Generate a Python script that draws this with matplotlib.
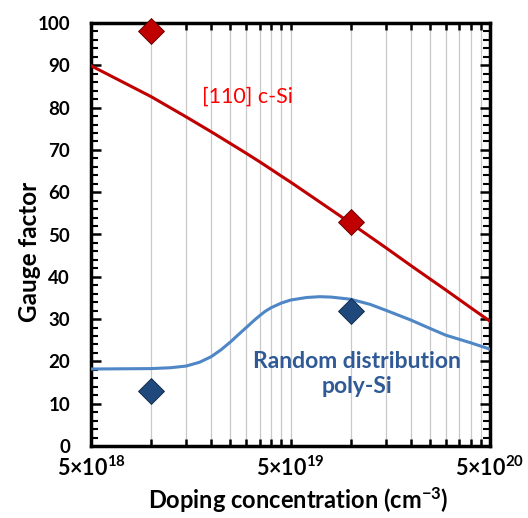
#!/usr/bin/env python3
"""Gauge factor vs doping concentration: [110] c-Si and random poly-Si."""

import matplotlib

matplotlib.use("Agg")
import matplotlib.pyplot as plt
from matplotlib.ticker import FixedLocator, NullFormatter

# model curve for [110] single-crystal Si
csi_x = [5e18, 1e19, 1.5e19, 2e19, 2.5e19, 3e19, 3.5e19, 4e19, 4.5e19, 5e19,
         7e19, 1e20, 1.5e20, 2e20, 2.5e20, 3e20, 4e20, 5e20]
csi_y = [89.9, 82.6, 77.8, 74.3, 71.5, 69.2, 67.2, 65.4, 63.8, 62.4,
         57.7, 52.7, 46.9, 42.7, 39.5, 36.9, 32.7, 29.5]

# model curve for randomly oriented poly-Si
poly_x = [5e18, 1e19, 1.25e19, 1.5e19, 1.75e19, 2e19, 2.25e19, 2.5e19, 2.75e19, 3e19,
          3.25e19, 3.5e19, 3.75e19, 4e19, 4.5e19, 5e19, 6e19, 7e19, 8e19, 1e20,
          1.25e20, 1.5e20, 2e20, 2.5e20, 3e20, 4e20, 5e20]
poly_y = [18.2, 18.3, 18.5, 18.9, 19.8, 21.1, 22.8, 24.6, 26.4, 28.0,
          29.5, 30.8, 31.9, 32.7, 33.8, 34.5, 35.1, 35.3, 35.2, 34.7,
          33.5, 32.1, 29.8, 27.8, 26.2, 24.4, 22.9]

# measured points
meas_x = [1e19, 1e20]
csi_meas = [98, 53]
poly_meas = [13, 32]

x_major = [5e18, 5e19, 5e20]
x_major_labels = [r"$\mathbf{5{\times}10^{18}}$", r"$\mathbf{5{\times}10^{19}}$",
                  r"$\mathbf{5{\times}10^{20}}$"]
x_minor = [k * 5e18 for k in range(2, 10)] + [k * 5e19 for k in range(2, 10)]

plt.rcParams["font.family"] = ["Lato", "DejaVu Sans"]
plt.rcParams["mathtext.fontset"] = "custom"
plt.rcParams["mathtext.rm"] = "Lato:bold"
plt.rcParams["mathtext.bf"] = "Lato:bold"
plt.rcParams["mathtext.it"] = "Lato:bold:italic"

RED = "#C00000"
BLUE_LINE = "#4F86C6"
BLUE_MARK = "#1F497D"

fig = plt.figure(figsize=(5.28, 5.18), dpi=100)
ax = fig.add_axes([91 / 528, 72 / 518, 399 / 528, 423 / 518])

ax.set_xscale("log")
ax.set_xlim(5e18, 5e20)
ax.set_ylim(0, 100)

ax.xaxis.set_major_locator(FixedLocator(x_major))
ax.xaxis.set_minor_locator(FixedLocator(x_minor))
ax.xaxis.set_minor_formatter(NullFormatter())
ax.set_xticklabels(x_major_labels)
ax.set_yticks(range(0, 101, 10))
ax.set_yticks(range(0, 101, 2), minor=True)

ax.grid(True, axis="x", which="both", color="#c8c8c8", linewidth=0.9)
ax.set_axisbelow(True)

ax.plot(csi_x, csi_y, color=RED, linewidth=2.2, zorder=3)
ax.plot(poly_x, poly_y, color=BLUE_LINE, linewidth=2.2, zorder=3)
ax.plot(meas_x, csi_meas, "D", color=RED, markersize=13, markeredgecolor="#5a0000",
        markeredgewidth=0.6, zorder=4, clip_on=False)
ax.plot(meas_x, poly_meas, "D", color=BLUE_MARK, markersize=13, markeredgecolor="#0f2440",
        markeredgewidth=0.6, zorder=4)

ax.text(3.03e19, 82.7, "[110] c-Si", color="#FF0000", fontsize=15.5, ha="center", va="center")
ax.text(1.08e20, 17.1, "Random distribution\npoly-Si", color="#2F5A96", fontsize=16.5,
        fontweight="bold", ha="center", va="center", linespacing=1.25)

for side in ["left", "right", "top", "bottom"]:
    ax.spines[side].set_linewidth(2.5)

ax.tick_params(axis="both", which="both", direction="in", top=True, right=True, color="black")
ax.tick_params(axis="y", which="major", length=7, width=1.8, pad=15, labelsize=13.5)
ax.tick_params(axis="y", which="minor", length=5, width=1.5)
ax.tick_params(axis="x", which="major", length=5, width=1.8, pad=7, labelsize=15.5)
ax.tick_params(axis="x", which="minor", length=5, width=1.8)
for lbl in ax.get_yticklabels():
    lbl.set_fontweight("bold")

ax.set_ylabel("Gauge factor", fontsize=17.5, fontweight="bold", va="center")
ax.yaxis.set_label_coords(-0.153, 0.459)
ax.set_xlabel(r"Doping concentration (cm$^{\mathbf{-3}}$)", fontsize=17,
              fontweight="bold", va="baseline")
ax.xaxis.set_label_coords(0.52, -0.149)

fig.savefig("out.png", dpi=100)
